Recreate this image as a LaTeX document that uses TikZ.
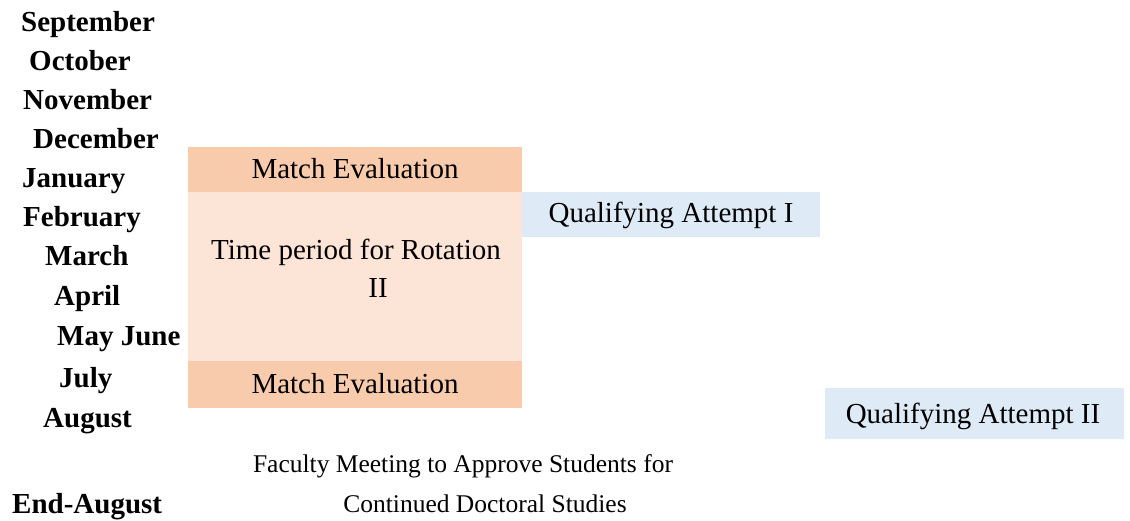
\documentclass[tikz,border=0pt]{standalone}
\usepackage{fontspec}
\setmainfont{Liberation Serif}
\definecolor{matchfill}{HTML}{F8CBAD}
\definecolor{rotfill}{HTML}{FCE4D6}
\definecolor{qualfill}{HTML}{DEEBF7}
\begin{document}
\begin{tikzpicture}[x=1pt,y=-1pt,
  month/.style={anchor=base west,inner sep=0pt,font=\fontsize{29}{34}\selectfont\bfseries},
  txt/.style={anchor=base,inner sep=0pt,font=\fontsize{29}{34}\selectfont},
  smalltxt/.style={anchor=base,inner sep=0pt,font=\fontsize{25.5}{30}\selectfont},
  band/.style={draw=none,inner sep=0pt}]
\useasboundingbox (0,0) rectangle (1130,521);
% months
\node[month] (sep) at (21,32) {September};
\node[month] (oct) at (29,71) {October};
\node[month] (nov) at (23,110) {November};
\node[month] (dec) at (33,149) {December};
\node[month] (jan) at (22,188) {January};
\node[month] (feb) at (23,227) {February};
\node[month] (mar) at (45,266) {March};
\node[month] (apr) at (54,306) {April};
\node[month] (may) at (57,345) {May June};
\node[month] (jul) at (59,388) {July};
\node[month] (aug) at (43,427) {August};
\node[month] (end) at (12,513) {End-August};
% boxes
\fill[matchfill] (188,147) rectangle (522,192) coordinate (m1);
\fill[rotfill] (188,192) rectangle (522,361) coordinate (r1);
\fill[matchfill] (188,361) rectangle (522,408) coordinate (m2);
\fill[qualfill] (522,192) rectangle (820,237) coordinate (q1);
\fill[qualfill] (825,388) rectangle (1124,439) coordinate (q2);
% texts
\node[txt] (me1) at (355,179) {Match Evaluation};
\node[txt] (rot1) at (356,260) {Time period for Rotation};
\node[txt] (rot2) at (378,298) {II};
\node[txt] (me2) at (355,393) {Match Evaluation};
\node[txt] (qa1) at (671,223) {Qualifying Attempt I};
\node[txt] (qa2) at (973,423) {Qualifying Attempt II};
\node[smalltxt] (fac1) at (463,472) {Faculty Meeting to Approve Students for};
\node[smalltxt] (fac2) at (485,512) {Continued Doctoral Studies};
\end{tikzpicture}
\end{document}
